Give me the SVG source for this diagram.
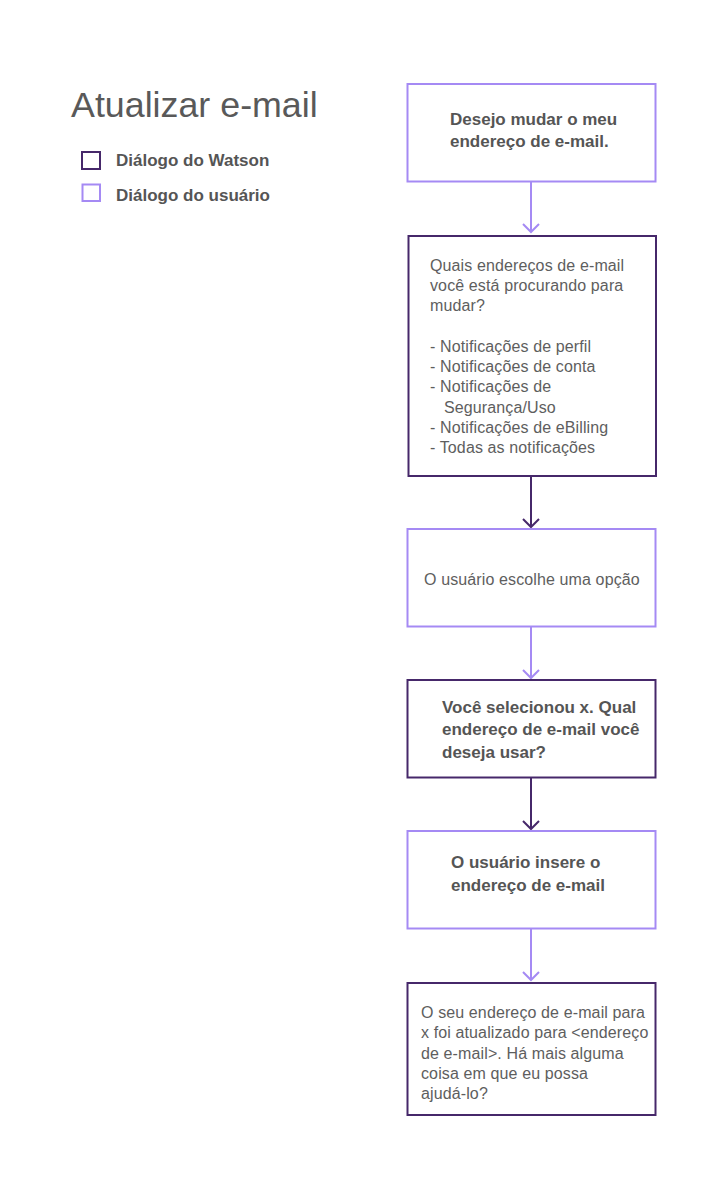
<svg xmlns="http://www.w3.org/2000/svg" width="720" height="1180" viewBox="0 0 720 1180">
<style>
.bg{fill:#ffffff}
.user{fill:#ffffff;stroke:#a58af4;stroke-width:2}
.watson{fill:#ffffff;stroke:#46286a;stroke-width:2}
.title{font-family:"Liberation Sans",Arial,sans-serif;font-size:35.8px;fill:#595959}
.b{font-family:"Liberation Sans",Arial,sans-serif;font-size:17px;font-weight:bold;fill:#555555}
.r{font-family:"Liberation Sans",Arial,sans-serif;font-size:16px;fill:#5e5e5e;letter-spacing:0.12px}
.cu{fill:none;stroke:#a58af4;stroke-width:2}
.cw{fill:none;stroke:#46286a;stroke-width:2}
</style>
<rect class="bg" x="0" y="0" width="720" height="1180"/>
<g id="legend">
<text class="title" x="71" y="117">Atualizar e-mail</text>
<rect class="watson" x="82" y="152" width="18" height="17"/>
<text class="b" x="116" y="166">Diálogo do Watson</text>
<rect class="user" x="82.5" y="184.5" width="17.5" height="16.5"/>
<text class="b" x="116" y="201">Diálogo do usuário</text>
</g>
<g id="connectors">
<path class="cu" d="M531 182V231M523 224L531 232L539 224"/>
<path class="cw" d="M531 476V526M523 519L531 527L539 519"/>
<path class="cu" d="M531 627V677M523 670L531 678L539 670"/>
<path class="cw" d="M531 778V828M523 821L531 829L539 821"/>
<path class="cu" d="M531 929V979M523 972L531 980L539 972"/>
</g>
<g id="n1">
<rect class="user" x="407.5" y="84" width="248" height="97.5"/>
<text class="b" x="450" y="125">Desejo mudar o meu</text>
<text class="b" x="450" y="147">endereço de e-mail.</text>
</g>
<g id="n2">
<rect class="watson" x="408.5" y="236" width="247.5" height="240"/>
<text class="r" x="430" y="271">Quais endereços de e-mail</text>
<text class="r" x="430" y="291">você está procurando para</text>
<text class="r" x="430" y="311">mudar?</text>
<text class="r" x="430" y="352">- Notificações de perfil</text>
<text class="r" x="430" y="372">- Notificações de conta</text>
<text class="r" x="430" y="392">- Notificações de</text>
<text class="r" x="444" y="413">Segurança/Uso</text>
<text class="r" x="430" y="433">- Notificações de eBilling</text>
<text class="r" x="430" y="453">- Todas as notificações</text>
</g>
<g id="n3">
<rect class="user" x="407.5" y="529" width="248" height="97.5"/>
<text class="r" x="424" y="585">O usuário escolhe uma opção</text>
</g>
<g id="n4">
<rect class="watson" x="407.5" y="680" width="248" height="97.5"/>
<text class="b" x="442" y="713">Você selecionou x. Qual</text>
<text class="b" x="442" y="735">endereço de e-mail você</text>
<text class="b" x="442" y="758">deseja usar?</text>
</g>
<g id="n5">
<rect class="user" x="407.5" y="831" width="248" height="97.5"/>
<text class="b" x="451" y="868">O usuário insere o</text>
<text class="b" x="451" y="891">endereço de e-mail</text>
</g>
<g id="n6">
<rect class="watson" x="407.5" y="983" width="248" height="132"/>
<text class="r" x="421" y="1018">O seu endereço de e-mail para</text>
<text class="r" x="421" y="1038">x foi atualizado para &lt;endereço</text>
<text class="r" x="421" y="1059">de e-mail&gt;. Há mais alguma</text>
<text class="r" x="421" y="1079">coisa em que eu possa</text>
<text class="r" x="421" y="1099">ajudá-lo?</text>
</g>
</svg>
